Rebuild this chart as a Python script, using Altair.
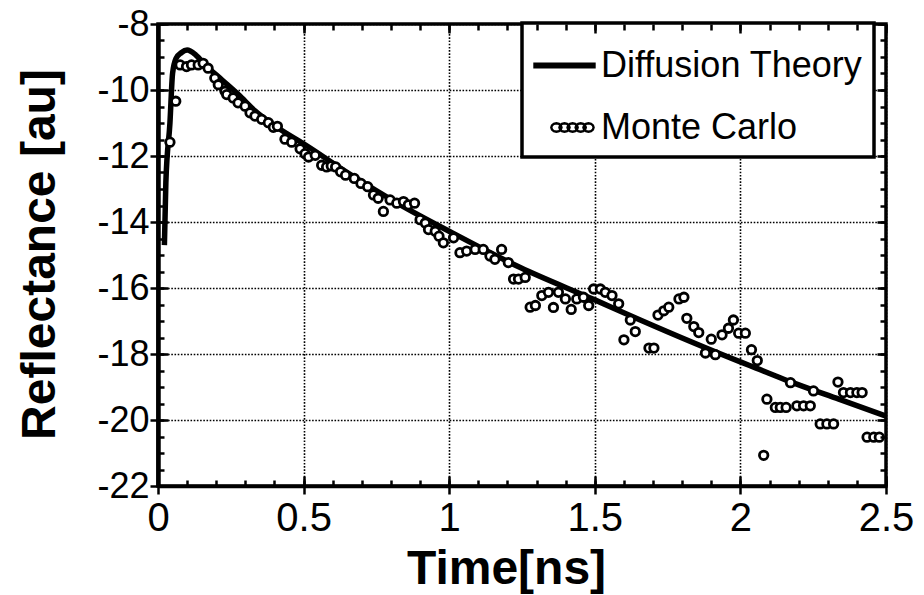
import math
import altair as alt
import pandas as pd

# ---------------- data ----------------
series_names = ["Diffusion Theory", "Monte Carlo"]

dt_t = [0.022, 0.027, 0.041, 0.05, 0.062, 0.08, 0.1, 0.13, 0.162, 0.219,
        0.276, 0.333, 0.419, 0.5, 0.65, 0.832, 1.0, 1.244, 1.5, 1.656,
        2.0, 2.052, 2.166, 2.338, 2.5]
dt_v = [-14.7, -12.8, -11.0, -9.5, -9.04, -8.87, -8.79, -8.94, -9.24, -9.69,
        -10.14, -10.63, -11.19, -11.63, -12.5, -13.48, -14.28, -15.38, -16.36, -16.97,
        -18.24, -18.42, -18.82, -19.37, -19.88]

mc_t = [0.041, 0.061, 0.076, 0.098, 0.115, 0.138, 0.155, 0.172, 0.195, 0.207,
        0.23, 0.236, 0.258, 0.275, 0.299, 0.316, 0.333, 0.356, 0.379, 0.396,
        0.41, 0.436, 0.459, 0.488, 0.505, 0.517, 0.54, 0.562, 0.579, 0.595,
        0.61, 0.627, 0.644, 0.674, 0.697, 0.72, 0.74, 0.756, 0.774, 0.797,
        0.82, 0.843, 0.86, 0.881, 0.9, 0.918, 0.929, 0.952, 0.965, 0.98,
        1.015, 1.037, 1.06, 1.089, 1.117, 1.14, 1.157, 1.18, 1.203, 1.221,
        1.238, 1.261, 1.278, 1.296, 1.318, 1.341, 1.358, 1.375, 1.399, 1.419,
        1.438, 1.461, 1.479, 1.496, 1.519, 1.536, 1.559, 1.582, 1.6, 1.622,
        1.639, 1.686, 1.703, 1.717, 1.737, 1.754, 1.789, 1.806, 1.816, 1.84,
        1.857, 1.88, 1.9, 1.914, 1.937, 1.959, 1.976, 1.994, 2.017, 2.038,
        2.058, 2.08, 2.091, 2.12, 2.137, 2.157, 2.172, 2.194, 2.217, 2.24,
        2.251, 2.274, 2.297, 2.32, 2.335, 2.354, 2.378, 2.4, 2.418, 2.435,
        2.458, 2.477]
mc_v = [-11.58, -10.34, -9.24, -9.29, -9.24, -9.24, -9.19, -9.34, -9.64, -9.84,
        -10.04, -10.14, -10.24, -10.39, -10.49, -10.69, -10.79, -10.89, -10.99, -11.13,
        -11.1, -11.49, -11.58, -11.78, -11.93, -12.03, -11.98, -12.28, -12.33, -12.3,
        -12.33, -12.48, -12.58, -12.68, -12.83, -12.93, -13.18, -13.28, -13.68, -13.33,
        -13.43, -13.38, -13.48, -13.43, -13.93, -14.03, -14.23, -14.28, -14.43, -14.63,
        -14.48, -14.93, -14.88, -14.83, -14.83, -15.03, -15.13, -14.83, -15.23, -15.73,
        -15.73, -15.68, -16.58, -16.53, -16.23, -16.13, -16.59, -16.13, -16.33, -16.65,
        -16.33, -16.28, -16.53, -16.03, -16.03, -16.13, -16.23, -16.48, -17.57, -16.97,
        -17.32, -17.82, -17.82, -16.82, -16.69, -16.58, -16.33, -16.28, -16.92, -17.17,
        -17.35, -17.97, -17.55, -18.02, -17.42, -17.22, -16.97, -17.37, -17.37, -17.87,
        -18.2, -21.07, -19.37, -19.62, -19.62, -19.62, -18.87, -19.57, -19.57, -19.57,
        -19.12, -20.12, -20.12, -20.12, -18.85, -19.17, -19.17, -19.17, -19.17, -20.52,
        -20.52, -20.52]

x_major = [0, 0.5, 1, 1.5, 2, 2.5]
y_major = [-22, -20, -18, -16, -14, -12, -10, -8]
x_minor = [round(i * 0.1, 1) for i in range(26)]
y_minor = [-22 + 0.5 * i for i in range(29)]

# ---------------- style ----------------
W, H = 728, 462
FONT = "Liberation Sans"
xs = alt.Scale(domain=[0, 2.5], nice=False, zero=False)
ys = alt.Scale(domain=[-22, -8], nice=False, zero=False)

df_dt = pd.DataFrame({"t": dt_t, "v": dt_v})
df_mc = pd.DataFrame({"t": mc_t, "v": mc_v})
df_one = pd.DataFrame({"t": [0.0], "v": [-22.0]})
df_leg = pd.DataFrame({"series": series_names})

grid_kw = dict(grid=True, gridColor="black", gridDash=[1.6, 1.6], gridWidth=1.6, gridOpacity=1)

x_main = alt.Axis(
    orient="bottom", values=x_major, labelExpr="toString(datum.value)",
    labelFont=FONT, labelFontSize=40, labelColor="black", labelPadding=4,
    labelFlush=False, labelOverlap=False,
    tickSize=8, tickWidth=2.5, tickColor="black",
    domainColor="black", domainWidth=3.5,
    title="Time[ns]", titleFont=FONT, titleFontSize=48, titleFontWeight="bold",
    titleColor="black", titleX=348, titleY=97, titleAlign="center",
    titleBaseline="alphabetic", **grid_kw)

y_main = alt.Axis(
    orient="left", values=y_major, labelExpr="toString(datum.value)",
    labelFont=FONT, labelFontSize=36, labelColor="black", labelPadding=1,
    labelFlush=False, labelOverlap=False,
    tickSize=8, tickWidth=2.5, tickColor="black",
    domainColor="black", domainWidth=4.5,
    title="Reflectance [au]", titleFont=FONT, titleFontSize=48, titleFontWeight="bold",
    titleColor="black", titleAngle=270, titleX=-104, titleY=230, titleAlign="center",
    titleBaseline="alphabetic", **grid_kw)

line = alt.Chart(df_dt).mark_line(color="black", strokeWidth=5.5, interpolate="monotone").encode(
    x=alt.X("t:Q", scale=xs, axis=x_main),
    y=alt.Y("v:Q", scale=ys, axis=y_main),
)

pts = alt.Chart(df_mc).mark_point(shape="circle", filled=True, fill="white", stroke="black",
                                  strokeWidth=2.8, size=72, opacity=1).encode(
    x=alt.X("t:Q", scale=xs, axis=None),
    y=alt.Y("v:Q", scale=ys, axis=None),
)


def tick_layer(xo, yo, xv, yv, size):
    common = dict(labels=False, domain=False, grid=False, ticks=True, tickSize=size,
                  tickWidth=2.5, tickColor="black", title="", zindex=2)
    return alt.Chart(df_one).mark_point(opacity=0).encode(
        x=alt.X("t:Q", scale=xs, axis=alt.Axis(orient=xo, offset=-H, values=xv, **common)),
        y=alt.Y("v:Q", scale=ys, axis=alt.Axis(orient=yo, offset=-W, values=yv, **common)),
    )


t1 = tick_layer("top", "right", x_minor, y_minor, 6)     # bottom & left edges, inward
t2 = tick_layer("bottom", "left", x_minor, y_minor, 6)   # top & right edges, inward
t3 = tick_layer("top", "right", x_major, y_major, 10)
t4 = tick_layer("bottom", "left", x_major, y_major, 9)


# legend symbols (unit-square paths, polygons only)
def ellipse(cx, rx, ry, n=12):
    pts_ = [(cx + rx * math.cos(2 * math.pi * k / n), ry * math.sin(2 * math.pi * k / n))
            for k in range(n)]
    return "M" + "L".join(f"{x:.3f},{y:.3f}" for x, y in pts_) + "Z"


dt_sym = "M-1,-0.06L1,-0.06L1,0.06L-1,0.06Z"
mc_sym = "".join(ellipse(c, 0.17, 0.14) for c in [-0.27, 0.0, 0.27, 0.54, 0.8])

legend_obj = alt.Legend(
    title=None, orient="none", legendX=364, legendY=-1,
    labelFont=FONT, labelFontSize=36, labelColor="black", labelLimit=0, labelOffset=5,
    symbolSize=3600, symbolStrokeColor="black", symbolStrokeWidth=2.4, symbolOpacity=1,
    strokeColor="black", fillColor="white", padding=11, rowPadding=12,
)

leg = alt.Chart(df_leg).mark_point(opacity=0, filled=True, stroke="black").encode(
    shape=alt.Shape("series:N", scale=alt.Scale(domain=series_names, range=[dt_sym, mc_sym]),
                    legend=legend_obj),
    fill=alt.Fill("series:N", scale=alt.Scale(domain=series_names, range=["black", "white"]),
                  legend=legend_obj),
    stroke=alt.Stroke("series:N", scale=alt.Scale(domain=series_names, range=["black", "black"]),
                      legend=legend_obj),
)

chart = (
    alt.layer(line, pts, leg, t1, t2, t3, t4)
    .resolve_axis(x="independent", y="independent")
    .properties(width=W, height=H,
                padding={"left": 150, "top": 16, "right": 30, "bottom": 110},
                autosize=alt.AutoSizeParams(type="none"))
    .configure(font=FONT)
    .configure_view(stroke="black", strokeWidth=3.5)
    .configure_legend(strokeWidth=3.5)
)

chart.save("out.html", embed_options={"renderer": "svg", "actions": False})
